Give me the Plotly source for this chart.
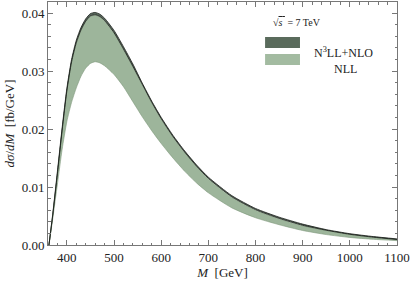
import plotly.graph_objects as go

# Invariant mass M [GeV]
mass = [362, 370, 380, 390, 400, 410, 420, 430, 440, 450, 460, 470, 480, 500, 520,
        540, 560, 580, 600, 625, 650, 675, 700, 750, 800, 850, 900, 950, 1000, 1050, 1100]

# N3LL+NLO band (fb/GeV)
n3ll_hi = [0.0, 0.0053, 0.0127, 0.0202, 0.0270, 0.0320, 0.0353, 0.0375, 0.0390, 0.0399,
           0.0401, 0.0398, 0.0391, 0.0370, 0.0342, 0.0312, 0.0279, 0.0248, 0.0220, 0.0189,
           0.0162, 0.0138, 0.0117, 0.0085, 0.0063, 0.0048, 0.0036, 0.00265, 0.00195, 0.00145, 0.00105]
n3ll_lo = [0.0, 0.0051, 0.0123, 0.0198, 0.0266, 0.0316, 0.0349, 0.0371, 0.0386, 0.0395,
           0.0397, 0.0394, 0.0387, 0.0366, 0.0338, 0.0308, 0.0277, 0.0246, 0.0218, 0.0187,
           0.0160, 0.0136, 0.0115, 0.0083, 0.0061, 0.0046, 0.0034, 0.00255, 0.00185, 0.00135, 0.00095]

# NLL band (fb/GeV)
nll_hi = [0.0, 0.0050, 0.0122, 0.0197, 0.0265, 0.0315, 0.0348, 0.0370, 0.0385, 0.0394,
          0.0396, 0.0393, 0.0386, 0.0365, 0.0337, 0.0307, 0.0276, 0.0245, 0.0217, 0.0186,
          0.0159, 0.0135, 0.0114, 0.0082, 0.0060, 0.0045, 0.0033, 0.0025, 0.0018, 0.0013, 0.00093]
nll_lo = [0.0, 0.0045, 0.0105, 0.0165, 0.0213, 0.0246, 0.0271, 0.0291, 0.0305, 0.0313,
          0.0316, 0.0314, 0.0309, 0.0294, 0.0273, 0.0247, 0.0221, 0.0197, 0.0175, 0.0150,
          0.0127, 0.0107, 0.0090, 0.0064, 0.0047, 0.0035, 0.0025, 0.0018, 0.0013, 0.00098, 0.00075]

x_ticks = [400, 500, 600, 700, 800, 900, 1000, 1100]
y_ticks = [0.0, 0.01, 0.02, 0.03, 0.04]
y_tick_labels = ["0.00", "0.01", "0.02", "0.03", "0.04"]

NLL_FILL = "#9db59b"
NLL_LINE = "#7d977b"
N3LL_FILL = "#56655a"

SERIF = "Liberation Serif, Times New Roman, serif"

fig = go.Figure()
def band_line(color, width):
    return dict(color=color, width=width, shape="spline", smoothing=0.6)

fig.add_trace(go.Scatter(x=mass, y=nll_lo, mode="lines",
                         line=band_line(NLL_LINE, 0.6), showlegend=False, hoverinfo="skip"))
fig.add_trace(go.Scatter(x=mass, y=nll_hi, mode="lines", fill="tonexty", fillcolor=NLL_FILL,
                         line=band_line(NLL_LINE, 0.6), showlegend=False, hoverinfo="skip"))
fig.add_trace(go.Scatter(x=mass, y=n3ll_lo, mode="lines",
                         line=band_line("#1a1f1a", 0.8), showlegend=False, hoverinfo="skip"))
fig.add_trace(go.Scatter(x=mass, y=n3ll_hi, mode="lines", fill="tonexty", fillcolor=N3LL_FILL,
                         line=band_line("#1a1f1a", 0.8), showlegend=False, hoverinfo="skip"))

axis_common = dict(
    showline=True, linecolor="#777777", linewidth=1, mirror="allticks",
    ticks="inside", ticklen=5, tickcolor="#777777", tickwidth=1,
    showgrid=False, zeroline=False,
    tickfont=dict(family=SERIF, size=13, color="#222222"),
)

fig.update_xaxes(range=[360, 1100], tickvals=x_ticks,
                 minor=dict(dtick=20, ticks="inside", ticklen=2.5, tickcolor="#777777", showgrid=False),
                 title=dict(text="<i>M</i>  [GeV]", font=dict(family=SERIF, size=13, color="#222222"),
                            standoff=4),
                 **axis_common)
fig.update_yaxes(range=[0, 0.0419], tickvals=y_ticks, ticktext=y_tick_labels,
                 minor=dict(dtick=0.002, ticks="inside", ticklen=2.5, tickcolor="#777777", showgrid=False),
                 title=dict(text="<i>dσ</i>/<i>dM</i>  [fb/GeV]", font=dict(family=SERIF, size=13, color="#222222"),
                            standoff=4),
                 **axis_common)

# Legend drawn as swatches + labels
fig.add_shape(type="rect", xref="paper", yref="paper", x0=0.622, x1=0.722, y0=0.811, y1=0.856,
              fillcolor="#5a6b5c", line=dict(width=0))
fig.add_shape(type="rect", xref="paper", yref="paper", x0=0.622, x1=0.722, y0=0.741, y1=0.786,
              fillcolor="#a3bba1", line=dict(width=0))
fig.add_annotation(xref="paper", yref="paper", x=0.757, y=0.833, xanchor="left",
                   text="N<sup>3</sup>LL+NLO",
                   showarrow=False, font=dict(family=SERIF, size=12, color="#222222"))
fig.add_annotation(xref="paper", yref="paper", x=0.815, y=0.763, xanchor="left", text="NLL",
                   showarrow=False, font=dict(family=SERIF, size=12, color="#222222"))
fig.add_annotation(xref="paper", yref="paper", x=0.788, y=0.947,
                   text="√<span style='text-decoration:overline'><i>s</i> </span> = 7 TeV",
                   showarrow=False, font=dict(family=SERIF, size=10, color="#222222"))

fig.update_layout(
    width=413, height=283,
    margin=dict(l=48, r=16, t=2, b=38),
    paper_bgcolor="white", plot_bgcolor="white",
    showlegend=False,
)

fig.write_html("out.html", config={"displayModeBar": False},
               post_script="document.body.style.margin='0';")
